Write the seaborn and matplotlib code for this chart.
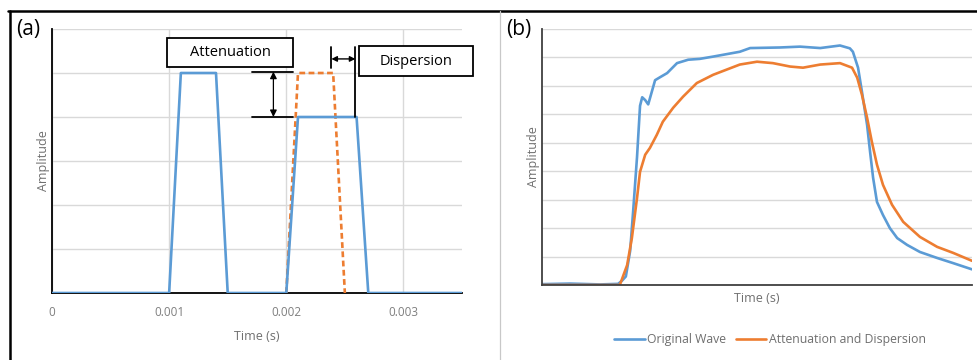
import matplotlib
matplotlib.use("Agg")
import matplotlib.pyplot as plt
import seaborn as sns
import pandas as pd
from matplotlib.patches import Rectangle
from matplotlib.lines import Line2D

# ---------------- data ----------------
# Panel (a): idealised pulses
a_time_orig = [0.0, 0.0010, 0.0011, 0.0014, 0.0015, 0.0020, 0.0021, 0.0026, 0.0027, 0.0035]
a_amp_orig = [0, 0, 5, 5, 0, 0, 4, 4, 0, 0]
a_time_ref = [0.0020, 0.0021, 0.0024, 0.0025]
a_amp_ref = [0, 5, 5, 0]
a_xticks = [0, 0.001, 0.002, 0.003]
a_xticklabels = ["0", "0.001", "0.002", "0.003"]

# Panel (b): measured waves (arbitrary time units)
b_time_orig = [0.00, 0.65, 1.35, 1.77, 1.86, 1.95, 2.05, 2.12, 2.21, 2.28, 2.33, 2.40, 2.47,
               2.63, 2.74, 2.91, 3.14, 3.40, 3.67, 3.98, 4.60, 4.84, 5.53, 6.00, 6.47, 6.93,
               7.16, 7.23, 7.35, 7.44, 7.56, 7.63, 7.70, 7.79, 7.93, 8.09, 8.26, 8.49, 8.79,
               9.19, 9.56, 10.0]
b_amp_orig = [0.03, 0.05, 0.02, 0.04, 0.15, 0.3, 1.2, 2.6, 4.5, 6.3, 6.6, 6.5, 6.35,
              7.2, 7.3, 7.45, 7.8, 7.92, 7.95, 8.03, 8.2, 8.33, 8.35, 8.38, 8.33, 8.42,
              8.32, 8.2, 7.64, 6.8, 5.63, 4.68, 3.77, 2.92, 2.46, 2.0, 1.65, 1.41, 1.16,
              0.95, 0.77, 0.55]
b_time_att = [0.0, 1.81, 1.98, 2.09, 2.21, 2.28, 2.40, 2.51, 2.67, 2.81, 3.05, 3.28, 3.60,
              3.98, 4.60, 5.00, 5.37, 5.77, 6.07, 6.47, 6.93, 7.21, 7.33, 7.44, 7.56, 7.67,
              7.79, 7.93, 8.14, 8.40, 8.79, 9.19, 9.56, 10.0]
b_amp_att = [0.0, 0.0, 0.7, 1.65, 3.06, 3.98, 4.58, 4.82, 5.28, 5.74, 6.23, 6.62, 7.1,
             7.39, 7.75, 7.85, 7.8, 7.68, 7.64, 7.75, 7.8, 7.64, 7.29, 6.69, 5.88, 5.04,
             4.23, 3.52, 2.82, 2.22, 1.69, 1.34, 1.13, 0.85]

series_names = ["Original Wave", "Attenuation and Dispersion"]

BLUE = "#5B9BD5"
ORANGE = "#ED7D31"
GRID = "#D9D9D9"
TXT = "#7F7F7F"

sns.set_style("white")
plt.rcParams["font.family"] = ["Open Sans", "DejaVu Sans"]

fig = plt.figure(figsize=(9.77, 3.6), dpi=100)
W, H = 977.0, 360.0

def fx(px):
    return px / W

def fy(py):
    return 1 - py / H

# ---------------- panel (a) ----------------
axa = fig.add_axes([fx(52), fy(293), (462 - 52) / W, (293 - 29) / H])
df_ref = pd.DataFrame({"t": a_time_ref, "amp": a_amp_ref})
df_orig = pd.DataFrame({"t": a_time_orig, "amp": a_amp_orig})
sns.lineplot(data=df_ref, x="t", y="amp", ax=axa, color=ORANGE, lw=1.9,
             estimator=None, sort=False, zorder=3)
axa.lines[-1].set_linestyle((0, (2.2, 1.3)))
sns.lineplot(data=df_orig, x="t", y="amp", ax=axa, color=BLUE, lw=1.9,
             estimator=None, sort=False, zorder=4)
axa.set_xlim(0, 0.0035)
axa.set_ylim(0, 6)
axa.set_xticks(a_xticks)
axa.set_xticklabels(a_xticklabels)
axa.set_yticks(range(0, 7))
axa.set_yticklabels([])
axa.tick_params(axis="y", length=0)
axa.tick_params(axis="x", length=3, width=1, color="black", colors=TXT,
                labelsize=8.5, pad=6)
for lab in axa.get_xticklabels():
    lab.set_color(TXT)
axa.grid(True, color=GRID, lw=1)
axa.set_axisbelow(True)
for s in ["top", "right"]:
    axa.spines[s].set_visible(False)
for s in ["left", "bottom"]:
    axa.spines[s].set_color("black")
    axa.spines[s].set_linewidth(1.3)
axa.set_xlabel("Time (s)", color="#6F6F6F", fontsize=9, labelpad=8)
axa.set_ylabel("Amplitude", color="#6F6F6F", fontsize=9, labelpad=-2)

# Attenuation annotation
axa.add_patch(Rectangle((0.00098, 5.14), 0.00108, 0.66, facecolor="white",
                        edgecolor="black", lw=1.3, zorder=6, clip_on=False))
axa.text(0.00152, 5.47, "Attenuation", ha="center", va="center", fontsize=10.5,
         color="black", zorder=7)
axa.plot([0.00171, 0.00206], [5.03, 5.03], color="black", lw=1.3, zorder=6)
axa.plot([0.00171, 0.00206], [4.0, 4.0], color="black", lw=1.3, zorder=6)
axa.annotate("", xy=(0.00189, 4.0), xytext=(0.00189, 5.03),
             arrowprops=dict(arrowstyle="<|-|>", color="black", lw=0.9,
                             mutation_scale=10, shrinkA=0, shrinkB=0), zorder=6)

# Dispersion annotation
axa.plot([0.002385, 0.002385], [5.11, 5.6], color="black", lw=1.3, zorder=6)
axa.plot([0.00259, 0.00259], [4.0, 5.6], color="black", lw=1.3, zorder=6)
axa.annotate("", xy=(0.002385, 5.32), xytext=(0.00259, 5.32),
             arrowprops=dict(arrowstyle="<|-|>", color="black", lw=1.0,
                             mutation_scale=8, shrinkA=0, shrinkB=0), zorder=6)
axa.add_patch(Rectangle((0.002624, 4.93), 0.000966, 0.68, facecolor="white",
                        edgecolor="black", lw=1.3, zorder=6, clip_on=False))
axa.text(0.003107, 5.27, "Dispersion", ha="center", va="center", fontsize=10.5,
         color="black", zorder=7, clip_on=False)

# ---------------- panel (b) ----------------
axb = fig.add_axes([fx(542), fy(285), (972 - 542) / W, (285 - 29) / H])
df_b = pd.concat([
    pd.DataFrame({"t": b_time_orig, "amp": b_amp_orig, "series": series_names[0]}),
    pd.DataFrame({"t": b_time_att, "amp": b_amp_att, "series": series_names[1]}),
])
sns.lineplot(data=df_b, x="t", y="amp", hue="series", hue_order=series_names,
             palette=[BLUE, ORANGE], ax=axb, lw=1.9, estimator=None, sort=False,
             legend=False)
axb.set_xlim(0, 10)
axb.set_ylim(0, 9)
axb.set_xticks([])
axb.set_yticks(range(0, 10))
axb.set_yticklabels([])
axb.tick_params(axis="y", length=0)
axb.grid(True, axis="y", color=GRID, lw=1)
axb.set_axisbelow(True)
for s in ["top", "right"]:
    axb.spines[s].set_visible(False)
for s in ["left", "bottom"]:
    axb.spines[s].set_color("#404040")
    axb.spines[s].set_linewidth(1.3)
axb.set_xlabel("Time (s)", color="#6F6F6F", fontsize=9, labelpad=5)
axb.set_ylabel("Amplitude", color="#6F6F6F", fontsize=9, labelpad=-2)

handles = [Line2D([], [], color=BLUE, lw=1.9), Line2D([], [], color=ORANGE, lw=1.9)]
leg = fig.legend(handles, series_names, loc="center", bbox_to_anchor=(fx(770), fy(340)),
                 ncol=2, frameon=False, fontsize=8.8, handlelength=2.5,
                 handletextpad=0.2, columnspacing=0.8)
for t in leg.get_texts():
    t.set_color("#6F6F6F")

# ---------------- panel labels & frame ----------------
fig.text(fx(16), fy(29), "(a)", fontsize=15, ha="left", va="center", color="black")
fig.text(fx(506), fy(29), "(b)", fontsize=15, ha="left", va="center", color="black")

fig.add_artist(Line2D([fx(8), 1.0], [fy(10.5), fy(10.5)], color="black", lw=1.8))
fig.add_artist(Line2D([fx(9.5), fx(9.5)], [0, fy(10.5)], color="black", lw=1.8))
fig.add_artist(Line2D([fx(500), fx(500)], [0, fy(11)], color="#C8C8C8", lw=0.9))

fig.savefig("out.png", dpi=100)
